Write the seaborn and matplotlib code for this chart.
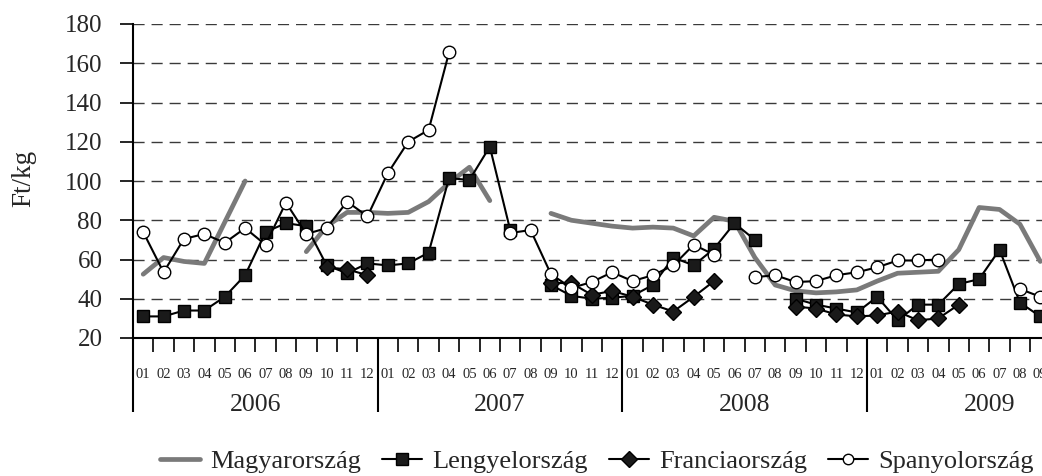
import numpy as np
import pandas as pd
import matplotlib
matplotlib.use("Agg")
import matplotlib.pyplot as plt
import matplotlib.transforms as mtransforms
from matplotlib.lines import Line2D
import seaborn as sns

nan = np.nan

# Data (Ft/kg), monthly 2006-01 .. 2009-09
years = ["2006", "2007", "2008", "2009"]
months = ["%02d" % m for m in range(1, 13)] * 3 + ["%02d" % m for m in range(1, 10)]

magyar = [52.5, 61, 59, 58, 79, 100, nan, nan, 64, 77, 84, 84,
          83.5, 84, 89.5, 99, 107, 90, nan, nan, 83.5, 80, 78.5, 77,
          76, 76.5, 76, 72, 81.5, 79.5, 61, 47, 44, 43, 43.5, 44.5,
          49, 53, 53.5, 54, 65, 86.5, 85.5, 78, 59]

lengyel = [31, 31, 34, 34, 41, 52, 74, 78.5, 77, 57, 53, 58,
           57, 58, 63.5, 101.5, 100.5, 117.5, 75, nan, 47, 41.5, 40, 40.5,
           41.5, 47, 61, 57, 65.5, 78.5, 70, nan, 40, 37, 35, 33,
           41, 29, 37, 37, 47.5, 50, 65, 38, 31]

francia = [nan, nan, nan, nan, nan, nan, nan, nan, nan, 56, 55, 52,
           nan, nan, nan, nan, nan, nan, nan, nan, 48, 48, 42, 44,
           41, 37, 33.5, 41, 49, nan, nan, nan, 36, 35, 32, 31,
           31.5, 33.5, 29, 30, 37, nan, nan, nan, nan]

spanyol = [74, 53.5, 70.5, 73, 68.5, 76, 67.5, 89, 73, 76, 89.5, 82,
           104, 120, 126, 165.5, nan, nan, 73.5, 75, 52.5, 45.5, 48.5, 53.5,
           49, 52, 57, 67.5, 62.5, nan, 51, 52, 48.5, 49, 52, 53.5,
           56, 59.5, 59.5, 60, nan, nan, nan, 45, 41]

labels = ["Magyarország", "Lengyelország", "Franciaország", "Spanyolország"]

sns.set_style("ticks")
plt.rcParams["font.family"] = ["Liberation Serif", "DejaVu Serif"]

fig = plt.figure(figsize=(10.42, 4.76), dpi=100)
ax = fig.add_axes([133 / 1042, 1 - 338 / 476, 917.5 / 1042, 314 / 476])


def draw(values, **kw):
    # one lineplot call per unbroken run, so gaps stay gaps
    s = pd.Series(values, dtype=float)
    ok = s.notna()
    runs = (~ok).cumsum()[ok]
    for _, part in s[ok].groupby(runs):
        sns.lineplot(x=part.index.values, y=part.values, ax=ax, legend=False, **kw)


black = dict(color="black", linewidth=1.5, markeredgecolor="black", markeredgewidth=1.0)
draw(magyar, color="#7a7a7a", linewidth=3.4)
draw(lengyel, marker="s", markersize=8.5, markerfacecolor="#1a1a1a", **black)
draw(francia, marker="D", markersize=8.5, markerfacecolor="#1a1a1a", **black)
draw(spanyol, marker="o", markersize=9, markerfacecolor="white", **black)

ax.set_xlim(-0.5, 44.5)
ax.set_ylim(20, 180)
ax.set_yticks(range(20, 181, 20))
ax.yaxis.grid(True, linestyle=(0, (8, 5)), color="#3a3a3a", linewidth=1.0)
ax.set_axisbelow(True)

ax.set_xticks(range(len(months)))
ax.set_xticklabels(months)
ax.set_xticks(np.arange(-0.5, 45, 1), minor=True)
ax.tick_params(axis="x", which="major", length=0, labelsize=10.5, pad=21.5)
ax.tick_params(axis="x", which="minor", length=10, width=1.2, direction="out", color="black")
ax.tick_params(axis="y", length=9.5, width=1.2, direction="out", labelsize=18, pad=12.5, color="black")

for side in ["top", "right"]:
    ax.spines[side].set_visible(False)
for side in ["left", "bottom"]:
    ax.spines[side].set_linewidth(1.5)
    ax.spines[side].set_color("black")

trans = mtransforms.blended_transform_factory(ax.transData, ax.transAxes)
ax.vlines([-0.5, 11.5, 23.5, 35.5], 0, -74 / 314, transform=trans, clip_on=False,
          color="black", linewidth=1.5)
for k, yr in enumerate(years):
    ax.text(5.5 + 12 * k, -67 / 314, yr, transform=trans, ha="center", va="center", fontsize=18.5)

fig.text(24 / 1042, 1 - 178 / 476, "Ft/kg", rotation=90, ha="center", va="center", fontsize=19.5)

handles = [
    Line2D([], [], color="#7a7a7a", linewidth=3.4),
    Line2D([], [], color="black", linewidth=1.5, marker="s", markersize=8,
           markerfacecolor="#1a1a1a", markeredgecolor="black"),
    Line2D([], [], color="black", linewidth=1.5, marker="D", markersize=8,
           markerfacecolor="#1a1a1a", markeredgecolor="black"),
    Line2D([], [], color="black", linewidth=1.5, marker="o", markersize=7.5,
           markerfacecolor="white", markeredgecolor="black"),
]
fig.legend(handles, labels, ncol=4, loc="center", bbox_to_anchor=(0.573, 0.03),
           frameon=False, fontsize=19, handlelength=1.5, handletextpad=0.4,
           columnspacing=0.8, borderaxespad=0, borderpad=0)

fig.savefig("out.png", dpi=100)
